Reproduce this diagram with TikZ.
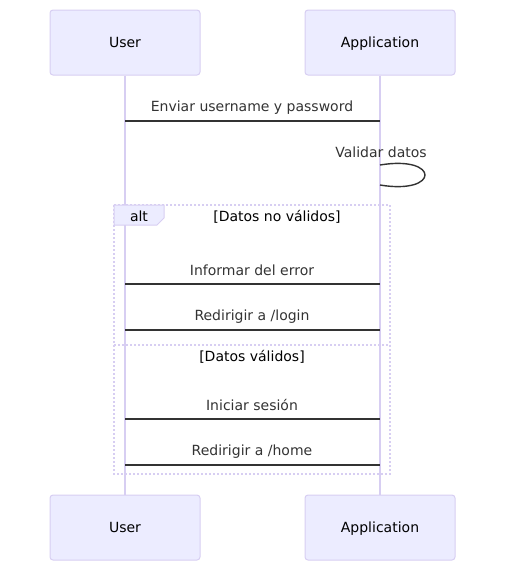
\documentclass[tikz,border=0pt]{standalone}
\usepackage{fontspec}
\setmainfont{DejaVu Sans}
\definecolor{actfill}{HTML}{ECECFF}
\definecolor{actline}{HTML}{D7CEF2}
\definecolor{msgcol}{HTML}{333333}

\begin{document}
\begin{tikzpicture}[x=1pt,y=-1pt,font=\fontsize{14}{17}\selectfont,
    actor/.style={rectangle,draw=actline,fill=actfill,line width=1pt,rounded corners=3pt,
      minimum width=150pt,minimum height=65pt,text height=10pt,text depth=0pt},
    life/.style={draw=actline,line width=1.6pt},
    msg/.style={draw=msgcol,line width=1.5pt},
    msglabel/.style={anchor=base,text=msgcol,inner sep=0pt},
    frame/.style={draw=actline,line width=1.6pt,dash pattern=on 2pt off 2pt}]
    \useasboundingbox (0,0) rectangle (506,571);

    % Actors
    \node (userT) at (125,42.5) [actor] {User};
    \node (appT) at (380,42.5) [actor] {Application};
    \node (userB) at (125,527.5) [actor] {User};
    \node (appB) at (380,527.5) [actor] {Application};

    % Lifelines
    \draw[life] (userT) -- (userB);
    \draw[life] (appT) -- (appB);

    % Messages
    \node (m1) at (252,111) [msglabel] {Enviar username y password};
    \coordinate (y1) at (0,121);
    \draw[msg] (userT |- y1) -- (appT |- y1);

    \node (m2) at (381,157) [msglabel] {Validar datos};
    \coordinate (s1) at (380,165);
    \coordinate (s2) at (380,185);
    \draw[msg,line width=1.4pt] (s1) .. controls (440,155) and (440,195) .. (s2);

    \node (m3) at (252,275) [msglabel] {Informar del error};
    \coordinate (y3) at (0,284);
    \draw[msg] (userT |- y3) -- (appT |- y3);

    \node (m4) at (252,320) [msglabel] {Redirigir a /login};
    \coordinate (y4) at (0,330);
    \draw[msg] (userT |- y4) -- (appT |- y4);

    \node (m5) at (252,410) [msglabel] {Iniciar sesión};
    \coordinate (y5) at (0,419);
    \draw[msg] (userT |- y5) -- (appT |- y5);

    \node (m6) at (252,455) [msglabel] {Redirigir a /home};
    \coordinate (y6) at (0,465);
    \draw[msg] (userT |- y6) -- (appT |- y6);

    % Alt frame
    \draw[frame] (114,205) rectangle (390,474);
    \draw[frame] (114,345) -- (390,345);
    \draw[draw=actline,fill=actfill,line width=1pt] (114,205) -- (164,205) -- (164,218) -- (157,225) -- (114,225) -- cycle;
    \node (altlab) at (139,221.5) [anchor=base,inner sep=0pt] {alt};
    \node (cond1) at (277,221.5) [anchor=base,inner sep=0pt] {[Datos no válidos]};
    \node (cond2) at (252,361.5) [anchor=base,inner sep=0pt] {[Datos válidos]};
\end{tikzpicture}
\end{document}
